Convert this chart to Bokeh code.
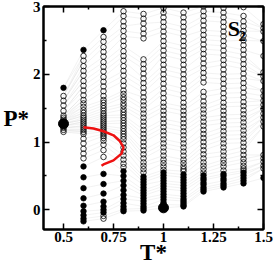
from bokeh.plotting import figure
from bokeh.models import Range1d, FixedTicker, LinearAxis, CustomJSTickFormatter, Label
from bokeh.embed import file_html
from bokeh.resources import INLINE

# ---- data ----
T_cols = [0.5, 0.6, 0.7, 0.8, 0.9, 1.0, 1.1, 1.2, 1.3, 1.4, 1.5]

open_05 = [1.68, 1.61, 1.54, 1.46, 1.39, 1.36, 1.33, 1.30, 1.24, 1.21, 1.18, 1.15]
fill_05 = [1.80]

open_06 = [2.27, 2.20, 2.12, 2.05, 1.98, 1.90, 1.83, 1.76, 1.69, 1.62, 1.57, 1.52, 1.47, 1.43,
           1.39, 1.36, 1.33, 1.30, 1.27, 1.24, 1.21, 1.18, 1.15, 1.12, 1.05, 0.98, 0.90, 0.83, 0.76]
fill_06 = [2.36, 0.64, 0.48, 0.32, 0.17, 0.06, -0.02, -0.08, -0.13, -0.17]

open_07 = [2.55, 2.48, 2.40, 2.33, 2.26, 2.18, 2.11, 2.04, 1.96, 1.89, 1.82, 1.75, 1.68, 1.62,
           1.58, 1.54, 1.50, 1.46, 1.42, 1.39, 1.36, 1.33, 1.30, 1.27, 1.24, 1.21, 1.18, 1.15,
           1.12, 1.09, 1.06, 1.02, 0.96, 0.88, 0.78, -0.09, -0.13]
fill_07 = [2.65, 0.53, 0.38, 0.24, 0.12, 0.05, 0.00, -0.04]

open_08 = [2.93, 2.86, 2.78, 2.71, 2.64, 2.56, 2.49, 2.42, 2.34, 2.27, 2.20, 2.12, 2.05, 1.98,
           1.90, 1.83, 1.76, 1.71, 1.66, 1.62, 1.57, 1.53, 1.48, 1.44, 1.40, 1.36, 1.32, 1.28,
           1.24, 1.20, 1.16, 1.12, 1.08, 1.04, 0.98, 0.92, 0.86, 0.80, 0.74, 0.68, 0.63]
fill_08 = [0.57, 0.50, 0.43, 0.36, 0.29, 0.22, 0.16, 0.10, 0.05, 0.01, -0.02]

open_09 = [2.89, 2.82, 2.75, 2.67, 2.60, 2.53, 2.22, 2.15, 2.08, 2.01, 1.94, 1.87, 1.80, 1.73,
           1.66, 1.60, 1.54, 1.48, 1.42, 1.36, 1.30, 1.24, 1.18, 1.12, 1.06, 1.00, 0.94,
           0.88, 0.82, 0.76, 0.70, 0.65, 0.60, 0.55]
fill_09 = [0.49, 0.45, 0.41, 0.37, 0.33, 0.29, 0.25, 0.21, 0.17, 0.13, 0.09, 0.05, 0.02, -0.01]

open_10 = [2.98, 2.91, 2.84, 2.77, 2.70, 2.63, 2.56, 2.49, 2.42, 2.35, 2.28, 2.21, 2.14, 2.07,
           2.00, 1.93, 1.86, 1.79, 1.72, 1.65, 1.58, 1.52, 1.46, 1.40, 1.34, 1.28, 1.22, 1.16,
           1.10, 1.04, 0.98, 0.92, 0.86, 0.80, 0.74, 0.69, 0.64, 0.59]
fill_10 = [0.55, 0.51, 0.47, 0.43, 0.39, 0.35, 0.31, 0.27, 0.23, 0.19, 0.15, 0.11, 0.08]

open_11 = [2.91, 2.84, 2.77, 2.70, 2.63, 2.56, 2.49, 2.42, 2.35, 2.28, 2.21, 2.14, 2.07, 2.00,
           1.93, 1.86, 1.79, 1.72, 1.65, 1.58, 1.52, 1.46, 1.40, 1.34, 1.28, 1.22, 1.16, 1.10,
           1.04, 0.98, 0.92, 0.86, 0.80, 0.74, 0.69, 0.64, 0.60, 0.57]
fill_11 = [0.52, 0.48, 0.44, 0.40, 0.36, 0.32, 0.28, 0.24, 0.20, 0.16, 0.13, 0.10, 0.07, 0.05]

open_12 = [3.00, 2.93, 2.86, 2.79, 2.72, 2.65, 2.58, 2.51, 2.44, 2.37, 2.30, 2.23, 2.16, 2.09,
           2.02, 1.95, 1.88, 1.74, 1.67, 1.60, 1.54, 1.48, 1.42, 1.36, 1.30, 1.24, 1.18, 1.12,
           1.06, 1.00, 0.94, 0.88, 0.82, 0.76, 0.70, 0.65, 0.60, 0.55]
fill_12 = [0.51, 0.47, 0.44, 0.40, 0.37, 0.33, 0.30, 0.27]

open_13 = [2.98, 2.91, 2.84, 2.77, 2.70, 2.63, 2.56, 2.49, 2.42, 2.35, 2.28, 2.21, 2.14, 2.07,
           2.00, 1.93, 1.86, 1.79, 1.72, 1.65, 1.58, 1.52, 1.46, 1.40, 1.34, 1.28, 1.22, 1.16,
           1.10, 1.04, 0.98, 0.92, 0.86, 0.80, 0.74, 0.69, 0.64, 0.58]
fill_13 = [0.53, 0.50, 0.46, 0.43, 0.39, 0.36, 0.33]

open_14 = [2.99, 2.86, 2.78, 2.71, 2.64, 2.57, 2.50, 2.43, 2.36, 2.29, 2.22, 2.15, 2.08, 2.01,
           1.94, 1.87, 1.80, 1.73, 1.66, 1.59, 1.53, 1.47, 1.41, 1.35, 1.29, 1.23, 1.17, 1.11,
           1.05, 0.99, 0.93, 0.87, 0.81, 0.75, 0.70, 0.65, 0.61, 0.58]
fill_14 = [0.55, 0.51, 0.47, 0.43, 0.39]

open_15 = [2.74, 2.68, 2.63, 2.49, 2.27, 2.03, 1.97, 1.90, 1.76, 1.68, 1.61, 1.55, 1.49, 1.42,
           1.36, 1.30, 1.23, 0.81, 0.76, 0.71, 0.65, 0.61]
fill_15 = [0.47]

big_T = [0.5, 1.0]
big_P = [1.27, 0.03]

red_T = [0.60, 0.65, 0.70, 0.75, 0.78, 0.80, 0.79, 0.75, 0.70, 0.69]
red_P = [1.22, 1.20, 1.16, 1.10, 1.02, 0.92, 0.83, 0.73, 0.67, 0.65]

# lowest pressure at T=0.6 that the faint lines from the T=0.5 column reach
fan_min_P = 1.10

x_ticks = [0.5, 0.75, 1.0, 1.25, 1.5]
x_minor = [0.625, 0.875, 1.125, 1.375]
y_ticks = [0, 1, 2, 3]
y_minor = [0.5, 1.5, 2.5]

open_cols = [open_05, open_06, open_07, open_08, open_09, open_10, open_11, open_12, open_13, open_14, open_15]
fill_cols = [fill_05, fill_06, fill_07, fill_08, fill_09, fill_10, fill_11, fill_12, fill_13, fill_14, fill_15]

# ---- figure ----
FONT = "Liberation Serif"
p = figure(width=273, height=270, output_backend="svg", toolbar_location=None,
           x_range=Range1d(0.4, 1.5), y_range=Range1d(-0.29, 3.0),
           min_border_left=38, min_border_right=10, min_border_top=6, min_border_bottom=41,
           x_axis_location=None, y_axis_location=None)
p.background_fill_color = "white"
p.border_fill_color = "white"
p.xgrid.visible = False
p.ygrid.visible = False
p.outline_line_color = "black"
p.outline_line_width = 2

fmt = CustomJSTickFormatter(code="return tick.toString()")
blank = CustomJSTickFormatter(code="return ''")

def make_axis(loc, ticks, minor, show_labels):
    ax = LinearAxis(ticker=FixedTicker(ticks=ticks, minor_ticks=minor),
                    formatter=fmt if show_labels else blank)
    ax.axis_line_color = "black"
    ax.axis_line_width = 2
    ax.major_tick_in = 6
    ax.major_tick_out = 0
    ax.minor_tick_in = 3
    ax.minor_tick_out = 0
    ax.major_tick_line_width = 1.5
    ax.minor_tick_line_width = 1.5
    ax.major_tick_line_color = "black"
    ax.minor_tick_line_color = "black"
    if show_labels:
        ax.major_label_text_font = FONT
        ax.major_label_text_font_style = "bold"
        ax.major_label_text_font_size = "15px"
        ax.major_label_text_color = "black"
        ax.major_label_standoff = 3
        ax.axis_label_text_font = FONT
        ax.axis_label_text_font_style = "bold"
        ax.axis_label_text_font_size = "23px"
        ax.axis_label_text_color = "black"
        ax.axis_label_standoff = 1
    else:
        ax.major_label_text_font_size = "0px"
        ax.major_label_standoff = 0
    p.add_layout(ax, loc)
    return ax

xb = make_axis("below", x_ticks, x_minor, True)
xb.axis_label = "T*"
xb.major_label_standoff = 2
xb.axis_label_standoff = -5
yl = make_axis("left", y_ticks, y_minor, True)
yl.axis_label = "P*"
yl.axis_label_orientation = "horizontal"
yl.axis_label_text_baseline = "top"
make_axis("above", x_ticks, x_minor, False)
make_axis("right", y_ticks, y_minor, False)

# faint isochore-like segments joining rank-matched points of neighbouring columns
all_cols = []
for o, f in zip(open_cols, fill_cols):
    all_cols.append(sorted(o + f))
all_cols[0] = sorted(all_cols[0] + [big_P[0]])
all_cols[5] = sorted(all_cols[5] + [big_P[1]])
N = 40
xs, ys = [], []
for i in range(len(T_cols) - 1):
    A = all_cols[i]
    B = all_cols[i + 1]
    if i == 0:
        B = [v for v in B if v >= fan_min_P]
    for j in range(N):
        frac = j / (N - 1)
        xs.append([T_cols[i], T_cols[i + 1]])
        ys.append([A[round(frac * (len(A) - 1))], B[round(frac * (len(B) - 1))]])
p.multi_line(xs, ys, line_color="#d4d4d4", line_width=0.5, line_alpha=0.6)

ox, oy, fx, fy = [], [], [], []
for T, o, f in zip(T_cols, open_cols, fill_cols):
    ox += [T] * len(o)
    oy += o
    fx += [T] * len(f)
    fy += f

p.scatter(ox, oy, marker="circle", size=5.5, fill_color=None, line_color="black", line_width=0.8)
p.scatter(fx, fy, marker="circle", size=5.5, fill_color="black", line_color="black", line_width=0.8)
p.line(red_T, red_P, line_color="#ee1111", line_width=2.5)
p.scatter(big_T, big_P, marker="circle", size=10, fill_color="black", line_color="black")

p.add_layout(Label(x=1.352, y=2.68, text="S", text_font=FONT, text_font_style="bold",
                   text_font_size="22px", text_color="black", text_align="center",
                   text_baseline="middle"))
p.add_layout(Label(x=1.394, y=2.56, text="2", text_font=FONT, text_font_style="bold",
                   text_font_size="15px", text_color="black", text_align="center",
                   text_baseline="middle"))

open("out.html", "w").write(file_html(p, INLINE))
